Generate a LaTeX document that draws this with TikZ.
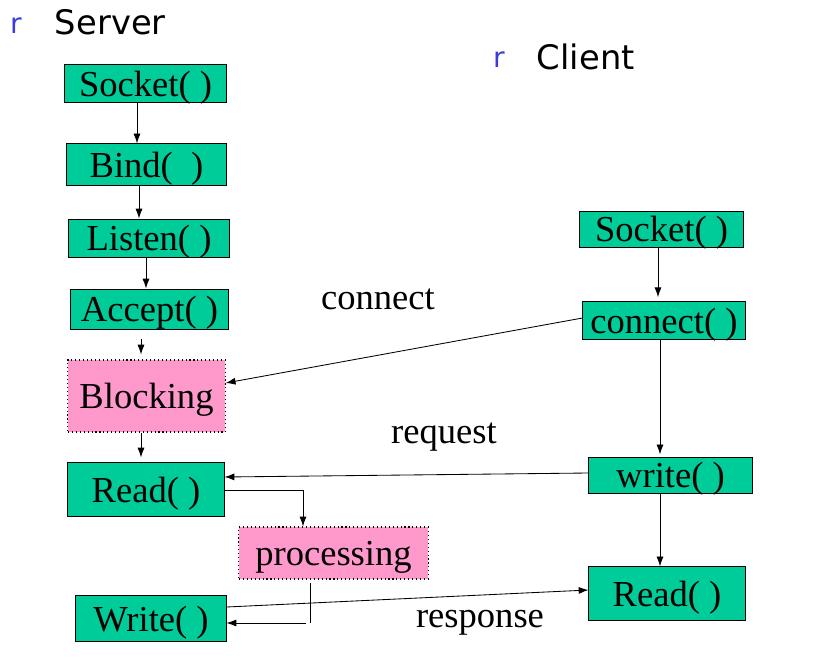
\documentclass[tikz,border=0pt]{standalone}
\usepackage{fontspec}
\setmainfont{Liberation Serif}
\newfontfamily\titlefont{DejaVu Sans}
\usetikzlibrary{arrows.meta}

\definecolor{boxgreen}{RGB}{0,204,153}
\definecolor{boxpink}{RGB}{255,153,204}
\definecolor{bulletblue}{RGB}{60,60,220}

\tikzset{
  callbox/.style={draw=black, fill=boxgreen, line width=0.7pt, inner sep=0pt,
    text depth=0pt, font=\fontsize{26}{30}\selectfont},
  waitbox/.style={draw=black, fill=boxpink, dotted, line width=0.8pt, inner sep=0pt,
    text depth=0pt, font=\fontsize{26}{30}\selectfont},
  msg/.style={font=\fontsize{26}{30}\selectfont},
  arr/.style={-{Latex[length=7pt,width=5pt]}, line width=0.6pt},
  title/.style={font=\titlefont\fontsize{24}{28}\selectfont, anchor=west},
  bullet/.style={font=\titlefont\fontsize{20}{24}\selectfont, text=bulletblue}
}

\begin{document}
\begin{tikzpicture}[x=0.025cm, y=-0.025cm]
  \useasboundingbox (0,0) rectangle (816,658);

  % ---------------- headings ----------------
  \node[bullet] (bs) at (16,26) {r};
  \node[title] (tserver) at (50,22) {Server};
  \node[bullet] (bc) at (499,60) {r};
  \node[title] (tclient) at (532,57) {Client};

  % ---------------- server side ----------------
  \node[callbox, minimum width=4.03cm, minimum height=0.93cm] (ssock) at (145.5,83.5) {Socket( )};
  \node[callbox, minimum width=3.98cm, minimum height=1.03cm] (sbind) at (146.5,164.5) {Bind(\ \ )};
  \node[callbox, minimum width=4.0cm, minimum height=0.95cm] (slisten) at (149,238) {Listen( )};
  \node[callbox, minimum width=3.93cm, minimum height=1.0cm] (saccept) at (149.5,309) {Accept( )};
  \node[waitbox, minimum width=3.93cm, minimum height=1.8cm] (sblock) at (146.5,396) {Blocking};
  \node[callbox, minimum width=3.9cm, minimum height=1.33cm] (sread) at (146,489.5) {Read( )};
  \node[waitbox, minimum width=4.73cm, minimum height=1.3cm] (proc) at (333.5,553) {processing};
  \node[callbox, minimum width=3.75cm, minimum height=1.13cm] (swrite) at (151,618.5) {Write( )};

  % ---------------- client side ----------------
  \node[callbox, minimum width=4.08cm, minimum height=0.9cm] (csock) at (661.5,229) {Socket( )};
  \node[callbox, minimum width=4.05cm, minimum height=0.93cm] (cconn) at (664,320.5) {connect( )};
  \node[callbox, minimum width=4.08cm, minimum height=0.9cm] (cwrite) at (670.5,475) {write( )};
  \node[callbox, minimum width=3.9cm, minimum height=1.33cm] (cread) at (667,593.5) {Read( )};

  % ---------------- message labels ----------------
  \node[msg] (lconn) at (378,299) {connect};
  \node[msg] (lreq) at (444,437) {request};
  \node[msg] (lresp) at (480,623) {response};

  % ---------------- server flow ----------------
  \draw[arr] (ssock.south -| 137,0) -- (sbind.north -| 137,0);
  \draw[arr] (sbind.south -| 139,0) -- (slisten.north -| 139,0);
  \draw[arr] (slisten.south -| 146,0) -- (saccept.north -| 146,0);
  \draw[arr, shorten <=7pt, shorten >=3.5pt] (saccept.south -| 141,0) -- (sblock.north -| 141,0);
  \draw[arr, shorten >=3.5pt] (sblock.south -| 141,0) -- (sread.north -| 141,0);
  \draw[arr] (sread.east |- 0,490) -| (proc.north -| 303,0);
  \draw (proc.south -| 310,0) ++(0,3) -- (310,623);
  \draw[arr] (306,623) -- (swrite.east |- 0,623);

  % ---------------- client flow ----------------
  \draw[arr, shorten >=3pt] (csock.south -| 658,0) -- (cconn.north -| 658,0);
  \draw[arr, shorten >=1.5pt] (cconn.south -| 660,0) -- (cwrite.north -| 660,0);
  \draw[arr] (cwrite.south -| 660,0) -- (cread.north -| 660,0);

  % ---------------- messages ----------------
  \draw[arr] (cconn.west |- 0,318) -- (sblock.east |- 0,383);
  \draw[arr] (cwrite.west |- 0,473) -- (sread.east |- 0,477);
  \draw[arr] (swrite.east |- 0,607) -- (cread.west |- 0,590);
\end{tikzpicture}
\end{document}
